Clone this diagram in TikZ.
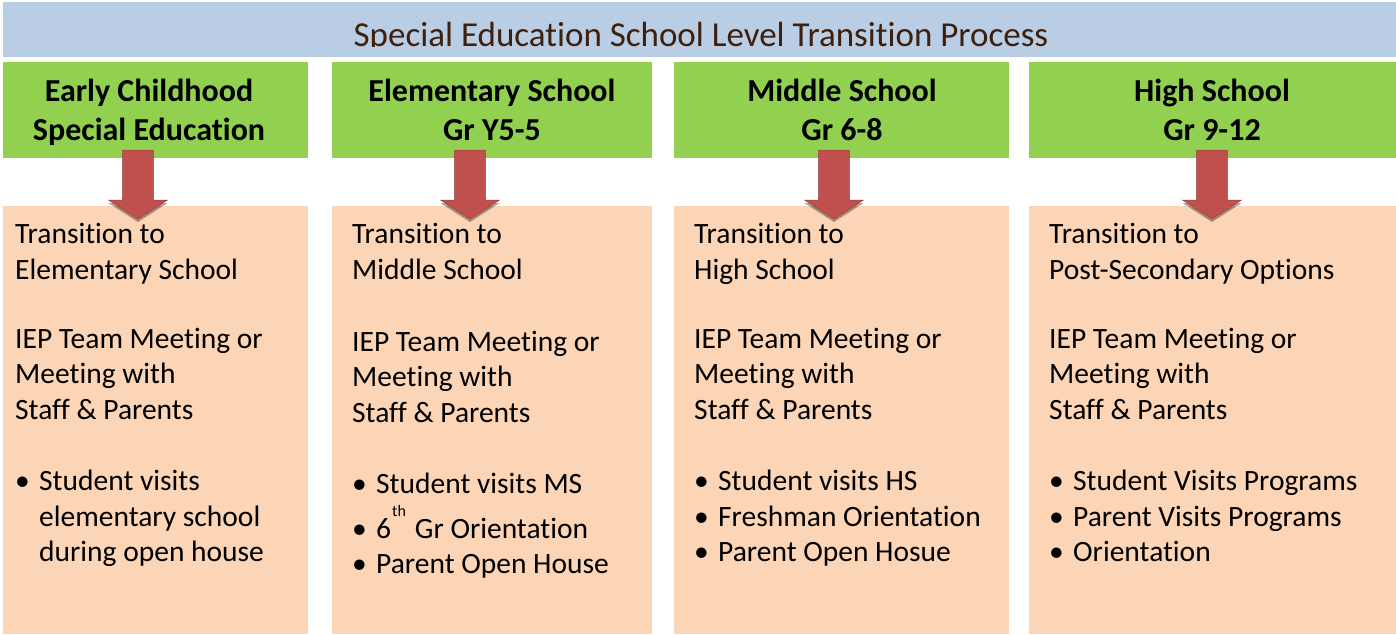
\documentclass[tikz,border=0pt]{standalone}
\usepackage{fontspec}
\setmainfont{Carlito}[Ligatures=NoCommon]
\usetikzlibrary{shadows}

\definecolor{bandblue}{RGB}{185,205,229}
\definecolor{stagegreen}{RGB}{146,208,80}
\definecolor{peach}{RGB}{251,213,181}
\definecolor{arrowred}{RGB}{192,80,77}
\definecolor{titlebrown}{RGB}{62,32,12}

% body text on a 35.6pt grid
\newcommand{\bodyfont}{\fontsize{29.5}{35.6}\selectfont}
\newcommand{\headfont}{\bfseries\fontsize{32}{38.5}\selectfont}
\newcommand{\bitem}[1]{\makebox[24pt][l]{\textbullet}#1}
\newcommand{\bcont}[1]{\hspace*{24pt}#1}
\newcommand{\ordsup}[1]{\smash{\raisebox{22pt}{\fontsize{16}{16}\selectfont #1}}}

\tikzset{
  band/.style={fill=bandblue, draw=none, anchor=north west, inner sep=0pt},
  stagebox/.style={fill=stagegreen, draw=none, anchor=north west, inner sep=0pt, minimum height=96pt},
  detailbox/.style={fill=peach, draw=none, anchor=north west, inner sep=0pt, minimum height=428pt},
  titletext/.style={font=\fontsize{35}{42}\selectfont, text=titlebrown, anchor=base, inner sep=0pt},
  stagelabel/.style={anchor=base, inner sep=0pt},
  detailtext/.style={anchor=base west, inner sep=0pt},
  blockarrow/.style={fill=arrowred, draw=arrowred!80!black, line width=0.5pt,
    drop shadow={shadow xshift=0pt, shadow yshift=-3pt, fill=black, opacity=0.35}},
  downarrow/.pic={
    \path[blockarrow] (-15.3,0) -- (15.3,0) -- (15.3,50) -- (29.5,50)
      -- (0,69) -- (-29.5,50) -- (-15.3,50) -- cycle;
  },
}

\begin{document}
\begin{tikzpicture}[x=1pt, y=-1pt]
  \useasboundingbox[fill=white] (0,0) rectangle (1396,634);

  % title band, its text cut off at the baseline
  \node[band, minimum width=1393pt, minimum height=55pt] (title) at (3,2) {};
  \begin{scope}
    \clip (3,2) rectangle (1396,46.5);
    \node[titletext] (titlelbl) at (701,46) {Special Education School Level Transition Process};
  \end{scope}

  % stage headers
  \node[stagebox, minimum width=305pt] (g1) at (3,62) {};
  \node[stagebox, minimum width=320pt] (g2) at (332,62) {};
  \node[stagebox, minimum width=335pt] (g3) at (674,62) {};
  \node[stagebox, minimum width=367pt] (g4) at (1029,62) {};

  \node[stagelabel] (h1) at (149,101.5) {\parbox[t]{300pt}{\centering\headfont Early Childhood\\Special Education}};
  \node[stagelabel] (h2) at (492,101.5) {\parbox[t]{300pt}{\centering\headfont Elementary School\\Gr Y5-5}};
  \node[stagelabel] (h3) at (842,101.5) {\parbox[t]{300pt}{\centering\headfont Middle School\\Gr 6-8}};
  \node[stagelabel] (h4) at (1212,101.5) {\parbox[t]{300pt}{\centering\headfont High School\\Gr 9-12}};

  % transition detail panels
  \node[detailbox, minimum width=305pt] (p1) at (3,206) {};
  \node[detailbox, minimum width=320pt] (p2) at (332,206) {};
  \node[detailbox, minimum width=335pt] (p3) at (674,206) {};
  \node[detailbox, minimum width=367pt] (p4) at (1029,206) {};

  \node[detailtext] (t1) at (15,243.5) {\parbox[t]{290pt}{\raggedright\bodyfont
    Transition to\\
    Elementary School\\[33.5pt]
    IEP Team Meeting or\\
    Meeting with\\
    Staff \& Parents\\[35.5pt]
    \bitem{Student visits}\\
    \bcont{elementary school}\\
    \bcont{during open house}}};

  \node[detailtext] (t2) at (352,243.5) {\parbox[t]{300pt}{\raggedright\bodyfont
    Transition to\\
    Middle School\\[36.3pt]
    IEP Team Meeting or\\
    Meeting with\\
    Staff \& Parents\\[35.2pt]
    \bitem{Student visits MS}\\[9.4pt]
    \bitem{6\hspace{1pt}\ordsup{th}\hspace{9pt}Gr Orientation}\\
    \bitem{Parent Open House}}};

  \node[detailtext] (t3) at (694,243.5) {\parbox[t]{310pt}{\raggedright\bodyfont
    Transition to\\
    High School\\[33.5pt]
    IEP Team Meeting or\\
    Meeting with\\
    Staff \& Parents\\[35.5pt]
    \bitem{Student visits HS}\\
    \bitem{Freshman Orientation}\\
    \bitem{Parent Open Hosue}}};

  \node[detailtext] (t4) at (1049,243.5) {\parbox[t]{340pt}{\raggedright\bodyfont
    Transition to\\
    Post-Secondary Options\\[33.5pt]
    IEP Team Meeting or\\
    Meeting with\\
    Staff \& Parents\\[35.5pt]
    \bitem{Student Visits Programs}\\
    \bitem{Parent Visits Programs}\\
    \bitem{Orientation}}};

  % block arrows from each header down into its panel
  \coordinate (a1) at (138,150);
  \coordinate (a2) at (470,150);
  \coordinate (a3) at (834,150);
  \coordinate (a4) at (1212,150);
  \foreach \a in {a1,a2,a3,a4} { \pic at (\a) {downarrow}; }
\end{tikzpicture}
\end{document}
